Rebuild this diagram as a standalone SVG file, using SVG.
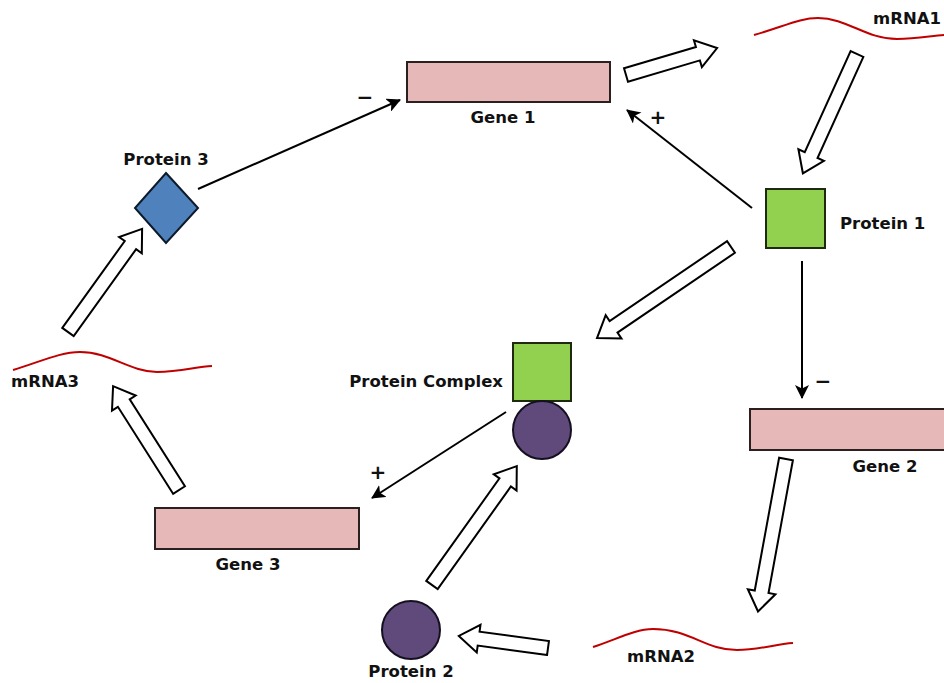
<svg xmlns="http://www.w3.org/2000/svg" width="944" height="683" viewBox="0 0 944 683">
  <defs>
    <marker id="head" viewBox="0 0 14 14" refX="13" refY="7" markerWidth="14" markerHeight="14" markerUnits="userSpaceOnUse" orient="auto">
      <path d="M0,0 L14,7 L0,14 L3.5,7 z" fill="#000"/>
    </marker>
  </defs>
  <style>
    .lbl { font-family: "DejaVu Sans", "Liberation Sans", sans-serif; font-weight: bold; font-size: 16.5px; fill: #111; }
    .sign { font-family: "DejaVu Sans", "Liberation Sans", sans-serif; font-weight: bold; font-size: 20px; fill: #111; text-anchor: middle; }
    .gene { fill: #e6b9b8; stroke: #2b1f1f; stroke-width: 2; }
    .green { fill: #92d050; stroke: #1e2a10; stroke-width: 2; }
    .purple { fill: #604a7b; stroke: #151020; stroke-width: 2; }
    .blue { fill: #4f81bd; stroke: #0d1a2a; stroke-width: 2; }
    .mrna { fill: none; stroke: #c00000; stroke-width: 2; }
    .block { fill: #fff; stroke: #000; stroke-width: 2; stroke-linejoin: miter; }
    .reg { fill: none; stroke: #000; stroke-width: 2; marker-end: url(#head); }
  </style>
  <rect width="944" height="683" fill="#fff"/>

  <!-- connectors: transcription/translation block arrows and regulation lines -->
  <g id="connectors">
    <polygon class="block" transform="translate(626,75) rotate(-16.5)" points="0,-7 75,-7 75,-14 95,0 75,14 75,7 0,7"/>
    <polygon class="block" transform="translate(857,54) rotate(114.4)" points="0,-7 111,-7 111,-14 131,0 111,14 111,7 0,7"/>
    <polygon class="block" transform="translate(731,247) rotate(145.8)" points="0,-7 142,-7 142,-14 162,0 142,14 142,7 0,7"/>
    <polygon class="block" transform="translate(786,459) rotate(100.4)" points="0,-7 135,-7 135,-14 155,0 135,14 135,7 0,7"/>
    <polygon class="block" transform="translate(548,648) rotate(187.7)" points="0,-7 70,-7 70,-14 90,0 70,14 70,7 0,7"/>
    <polygon class="block" transform="translate(432,585) rotate(-54.5)" points="0,-7 126,-7 126,-14 146,0 126,14 126,7 0,7"/>
    <polygon class="block" transform="translate(179,490) rotate(237.6)" points="0,-7 103,-7 103,-14 123,0 103,14 103,7 0,7"/>
    <polygon class="block" transform="translate(68,332) rotate(-54.3)" points="0,-7 107,-7 107,-14 127,0 107,14 107,7 0,7"/>

    <line class="reg" x1="198" y1="189" x2="400" y2="100"/>
    <line class="reg" x1="752" y1="208" x2="627" y2="110"/>
    <line class="reg" x1="802" y1="261" x2="802" y2="398"/>
    <line class="reg" x1="506" y1="412" x2="372" y2="498"/>

    <text class="sign" x="365" y="104">−</text>
    <text class="sign" x="658" y="124">+</text>
    <text class="sign" x="823" y="388">−</text>
    <text class="sign" x="378" y="479">+</text>
  </g>

  <g id="gene1">
    <rect class="gene" x="407" y="62" width="203" height="40"/>
    <text class="lbl" x="503" y="123" text-anchor="middle">Gene 1</text>
  </g>

  <g id="mrna1">
    <path class="mrna" d="M754,35 C785,26 800,18 818,18 C847,18 866,39 897,39 C917,39 930,36 944,35"/>
    <text class="lbl" x="873" y="24">mRNA1</text>
  </g>

  <g id="protein1">
    <rect class="green" x="766" y="189" width="59" height="59"/>
    <text class="lbl" x="840" y="229">Protein 1</text>
  </g>

  <g id="gene2">
    <rect class="gene" x="750" y="409" width="200" height="41"/>
    <text class="lbl" x="885" y="472" text-anchor="middle">Gene 2</text>
  </g>

  <g id="mrna2">
    <path class="mrna" d="M593,647 C615,640 635,629 653,629 C690,629 705,650 737,650 C760,650 775,644 793,643"/>
    <text class="lbl" x="661" y="662" text-anchor="middle">mRNA2</text>
  </g>

  <g id="protein2">
    <circle class="purple" cx="411" cy="630" r="29"/>
    <text class="lbl" x="411" y="677" text-anchor="middle">Protein 2</text>
  </g>

  <g id="protein-complex">
    <rect class="green" x="513" y="343" width="58" height="58"/>
    <circle class="purple" cx="542" cy="430" r="29"/>
    <text class="lbl" x="503" y="387" text-anchor="end">Protein Complex</text>
  </g>

  <g id="gene3">
    <rect class="gene" x="155" y="508" width="204" height="41"/>
    <text class="lbl" x="248" y="570" text-anchor="middle">Gene 3</text>
  </g>

  <g id="mrna3">
    <path class="mrna" d="M13,370 C40,362 60,352 80,352 C110,352 130,372 157,372 C180,372 195,367 212,366"/>
    <text class="lbl" x="11" y="387">mRNA3</text>
  </g>

  <g id="protein3">
    <polygon class="blue" points="166,173 198,208 166,243 135,208"/>
    <text class="lbl" x="166" y="165" text-anchor="middle">Protein 3</text>
  </g>
</svg>
